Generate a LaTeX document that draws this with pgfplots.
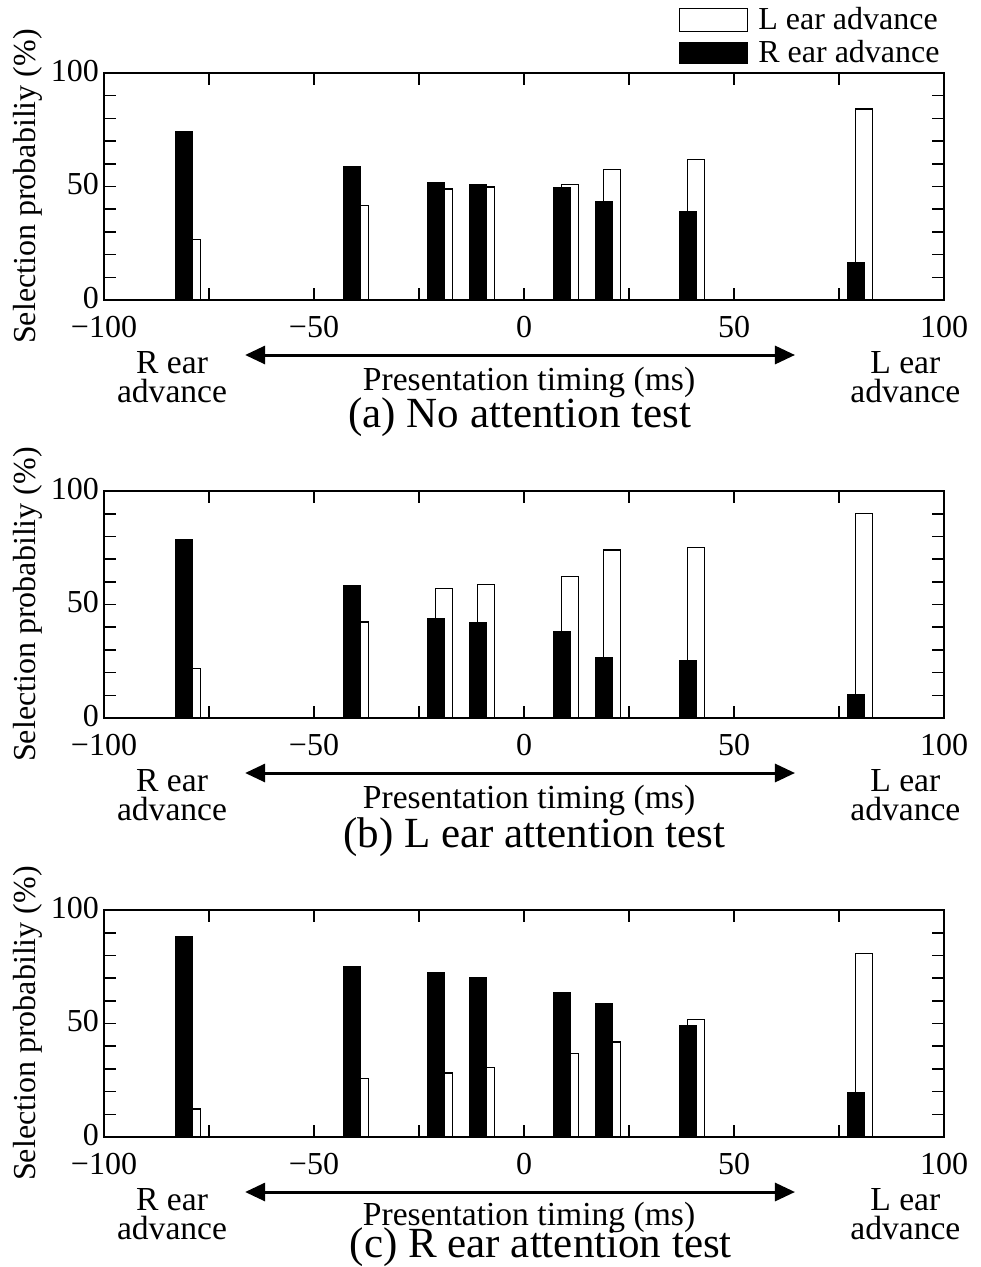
\documentclass[border=0pt]{standalone}
\usepackage{pgfplots}
\pgfplotsset{compat=1.18}
\usepackage{pgfplotstable}
\usetikzlibrary{arrows.meta}
\usepackage{fontspec}
\setmainfont{Liberation Serif}

% x, L ear advance (white), R ear advance (black)
\pgfplotstableread{
x   L     R
-80 26.5  74.0
-40 41.8  58.6
-20 48.9  51.6
-10 49.8  50.8
10  51.0  49.6
20  57.5  43.3
40  61.8  38.8
80  84.1  16.4
}\dataA
\pgfplotstableread{
x   L     R
-80 21.9  78.8
-40 42.3  58.4
-20 56.9  43.8
-10 58.7  41.9
10  62.5  38.2
20  74.0  26.7
40  75.2  25.4
80  90.2  10.4
}\dataB
\pgfplotstableread{
x   L     R
-80 12.3  88.4
-40 25.7  74.9
-20 28.2  72.6
-10 30.5  70.2
10  36.9  63.8
20  41.9  58.7
40  51.8  49.1
80  80.9  19.6
}\dataC

\newcommand{\tfont}{\fontsize{16}{14.5}\selectfont}
\newcommand{\nfont}{\fontsize{16.8}{14.5}\selectfont}

\tikzset{
  notes/.style={font=\nfont, align=center},
  twoway/.style={line width=1.5pt, {Triangle[length=10pt,width=9pt]}-{Triangle[length=10pt,width=9pt]}},
}

\pgfplotsset{
  panel/.style={
    scale only axis, width=420pt, height=113.5pt,
    xmin=-100, xmax=100, ymin=0, ymax=100,
    xtick={-100,-50,0,50,100},
    xticklabels={−100,−50,0,50,100},
    minor xtick={-75,-25,25,75},
    ytick={0,50,100}, yticklabels={0,50,100},
    minor ytick={10,20,30,40,60,70,80,90},
    tick align=inside,
    major tick length=6pt, minor tick length=6pt,
    tick style={black, line width=0.8pt},
    axis line style={line width=1pt},
    every tick label/.append style={font=\tfont},
    xticklabel style={yshift=-4.5pt},
    yticklabel style={xshift=1pt, yshift=1pt},
    ylabel={Selection probabiliy (\%)},
    every axis y label/.style={at={(axis description cs:-0.0905,0.5)}, rotate=90, anchor=center, font=\tfont},
    clip=false,
  },
  wbar/.style={ybar, bar width=4, bar shift=1, draw=black, fill=white, line width=0.6pt,
    legend image code/.code={\draw[draw=black, fill=white, line width=0.6pt] (0pt,-5.7pt) rectangle (34pt,5.7pt);}},
  kbar/.style={ybar, bar width=4, bar shift=-1, draw=black, fill=black, line width=0.6pt,
    legend image code/.code={\draw[draw=black, fill=black] (0pt,-5pt) rectangle (34pt,5pt);}},
}

\begin{document}
\begin{tikzpicture}
\useasboundingbox (0,0) rectangle (490pt,-633.5pt);

\begin{axis}[panel, at={(52pt,-150pt)}, anchor=south west,
  legend style={at={(axis description cs:1,1)}, anchor=south east, draw=none, fill=none,
    inner sep=0pt, font=\tfont, row sep=0pt, cells={anchor=west}, yshift=1.5pt,
    /tikz/every odd column/.append style={column sep=3pt}}]
\addplot[wbar] table[x=x, y=L] {\dataA};
\addplot[kbar] table[x=x, y=R] {\dataA};
\legend{L ear advance, R ear advance}
\draw[twoway] ([yshift=-27.5pt]axis description cs:0.168,0) -- ([yshift=-27.5pt]axis description cs:0.8226,0);
\node[notes] at ([yshift=-38.5pt]axis description cs:0.081,0) {R ear\\advance};
\node[notes] at ([yshift=-38.5pt]axis description cs:0.954,0) {L ear\\advance};
\node[notes] at ([yshift=-41pt]axis description cs:0.506,0) {Presentation timing (ms)};
\node[font=\fontsize{21.5}{21.5}\selectfont] at ([yshift=-58.5pt]axis description cs:0.495,0) {(a) No attention test};
\end{axis}

\begin{axis}[panel, at={(52pt,-359pt)}, anchor=south west]
\addplot[wbar] table[x=x, y=L] {\dataB};
\addplot[kbar] table[x=x, y=R] {\dataB};
\draw[twoway] ([yshift=-27.5pt]axis description cs:0.168,0) -- ([yshift=-27.5pt]axis description cs:0.8226,0);
\node[notes] at ([yshift=-38.5pt]axis description cs:0.081,0) {R ear\\advance};
\node[notes] at ([yshift=-38.5pt]axis description cs:0.954,0) {L ear\\advance};
\node[notes] at ([yshift=-41pt]axis description cs:0.506,0) {Presentation timing (ms)};
\node[font=\fontsize{21.5}{21.5}\selectfont] at ([yshift=-59.5pt]axis description cs:0.5125,0) {(b) L ear attention test};
\end{axis}

\begin{axis}[panel, at={(52pt,-568.5pt)}, anchor=south west]
\addplot[wbar] table[x=x, y=L] {\dataC};
\addplot[kbar] table[x=x, y=R] {\dataC};
\draw[twoway] ([yshift=-27.5pt]axis description cs:0.168,0) -- ([yshift=-27.5pt]axis description cs:0.8226,0);
\node[notes] at ([yshift=-38.5pt]axis description cs:0.081,0) {R ear\\advance};
\node[notes] at ([yshift=-38.5pt]axis description cs:0.954,0) {L ear\\advance};
\node[notes] at ([yshift=-40pt]axis description cs:0.506,0) {Presentation timing (ms)};
\node[font=\fontsize{21.5}{21.5}\selectfont] at ([yshift=-55pt]axis description cs:0.52,0) {(c) R ear attention test};
\end{axis}
\end{tikzpicture}
\end{document}
